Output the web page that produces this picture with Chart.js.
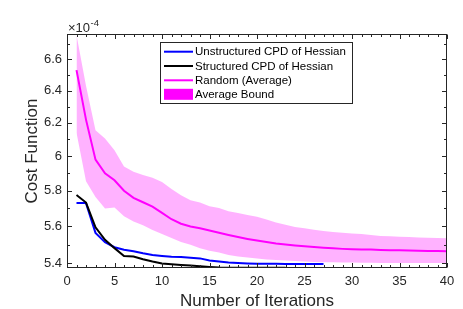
<!DOCTYPE html>
<html>
<head>
<meta charset="utf-8">
<script src="https://cdn.jsdelivr.net/npm/chart.js@4.4.1/dist/chart.umd.min.js"></script>
<style>
  html, body { margin: 0; padding: 0; background: #fff; }
  canvas { display: block; }
</style>
</head>
<body>
<canvas id="chart" width="463" height="309"></canvas>
<script>
// values are in units of 1e-4 (the axis shows the x10^-4 factor)
const randomAvg = [6.53, 6.22, 5.98, 5.90, 5.86, 5.80, 5.76, 5.735, 5.71, 5.675,
  5.64, 5.615, 5.60, 5.59, 5.578, 5.565, 5.553, 5.542, 5.532, 5.523,
  5.515, 5.507, 5.501, 5.496, 5.492, 5.488, 5.484, 5.481, 5.478, 5.476,
  5.475, 5.474, 5.472, 5.471, 5.470, 5.469, 5.468, 5.467, 5.466, 5.465];
const boundUpper = [6.76, 6.43, 6.155, 6.105, 6.035, 5.94, 5.91, 5.89, 5.875, 5.85,
  5.81, 5.775, 5.746, 5.733, 5.713, 5.702, 5.685, 5.674, 5.663, 5.654,
  5.638, 5.622, 5.609, 5.597, 5.590, 5.582, 5.575, 5.570, 5.565, 5.562,
  5.558, 5.553, 5.548, 5.546, 5.544, 5.542, 5.540, 5.538, 5.537, 5.535];
const boundLower = [6.14, 5.855, 5.765, 5.70, 5.705, 5.656, 5.628, 5.606, 5.58, 5.558,
  5.537, 5.515, 5.50, 5.482, 5.468, 5.458, 5.445, 5.437, 5.432, 5.427,
  5.421, 5.419, 5.416, 5.413, 5.411, 5.408, 5.407, 5.406, 5.405, 5.405,
  5.404, 5.404, 5.403, 5.403, 5.403, 5.402, 5.402, 5.402, 5.402, 5.402];
const unstructured = [5.73, 5.73, 5.565, 5.514, 5.487, 5.473, 5.465, 5.454, 5.445, 5.440,
  5.436, 5.434, 5.430, 5.427, 5.416, 5.410, 5.405, 5.402, 5.400, 5.399,
  5.398, 5.398, 5.397, 5.397, 5.397, 5.397, 5.397];
const structured = [5.776, 5.733, 5.595, 5.527, 5.482, 5.440, 5.437, 5.422, 5.410, 5.400,
  5.396, 5.392, 5.389, 5.385, 5.381, 5.378, 5.377, 5.377, 5.377, 5.377,
  5.377, 5.377, 5.377];

const xTicks = [0, 5, 10, 15, 20, 25, 30, 35, 40];
const yTicks = [5.4, 5.6, 5.8, 6.0, 6.2, 6.4, 6.6];
const yMinorTicks = [5.5, 5.7, 5.9, 6.1, 6.3, 6.5, 6.7];
const labels = ['Unstructured CPD of Hessian', 'Structured CPD of Hessian', 'Random (Average)', 'Average Bound'];

const FONT = "'Liberation Sans', Arial, Helvetica, sans-serif";
const AXIS = '#262626';
const points = arr => arr.map((v, i) => ({ x: i + 1, y: v }));

const frame = {
  id: 'frame',
  afterDatasetsDraw(chart) {
    const { ctx, chartArea: a, scales: { x, y } } = chart;
    const L = Math.round(a.left) + 0.5, R = Math.round(a.right) - 0.5;
    const T = Math.round(a.top) + 0.5, B = Math.round(a.bottom) - 0.5;
    ctx.save();
    ctx.strokeStyle = AXIS;
    ctx.lineWidth = 1;
    ctx.beginPath();
    for (let v = 0; v <= 40; v++) {
      const px = Math.round(x.getPixelForValue(v)) + 0.5;
      const len = v % 5 === 0 ? 4.5 : 2.5;
      ctx.moveTo(px, B); ctx.lineTo(px, B - len);
      ctx.moveTo(px, T); ctx.lineTo(px, T + len);
    }
    yTicks.concat(yMinorTicks).forEach(v => {
      const py = Math.round(y.getPixelForValue(v)) + 0.5;
      const len = yTicks.includes(v) ? 4.5 : 2.5;
      ctx.moveTo(L, py); ctx.lineTo(L + len, py);
      ctx.moveTo(R, py); ctx.lineTo(R - len, py);
    });
    ctx.stroke();
    ctx.strokeRect(L, T, R - L, B - T);

    // exponent label
    ctx.fillStyle = AXIS;
    ctx.textBaseline = 'alphabetic';
    ctx.font = '13px ' + FONT;
    ctx.fillText('\u00d710', a.left + 1, a.top - 2);
    const w = ctx.measureText('\u00d710').width;
    ctx.font = '9.5px ' + FONT;
    ctx.fillText('-4', a.left + 1.5 + w, a.top - 8.5);
    ctx.restore();
  },
  afterDraw(chart) {
    const { ctx } = chart;
    const ds = chart.data.datasets;
    ctx.save();
    ctx.fillStyle = '#fff';
    ctx.fillRect(160.5, 42.5, 192, 61);
    ctx.strokeStyle = AXIS;
    ctx.lineWidth = 1;
    ctx.strokeRect(160.5, 42.5, 192, 61);
    const rows = [51.7, 66, 80.3, 94.3];
    ctx.font = '11.5px ' + FONT;
    ctx.textBaseline = 'middle';
    rows.forEach((ry, i) => {
      if (i < 3) {
        ctx.strokeStyle = ds[i].borderColor;
        ctx.lineWidth = 2;
        ctx.beginPath();
        ctx.moveTo(164, ry); ctx.lineTo(193, ry);
        ctx.stroke();
      } else {
        ctx.fillStyle = '#ff00ff';
        ctx.fillRect(164, ry - 5.5, 29, 11);
      }
      ctx.fillStyle = '#000';
      ctx.fillText(labels[i], 195, ry + 0.5);
    });
    ctx.restore();
  }
};

new Chart(document.getElementById('chart'), {
  type: 'line',
  data: {
    datasets: [
      { label: labels[0], data: points(unstructured), borderColor: '#0000ff', borderWidth: 2, order: 3 },
      { label: labels[1], data: points(structured), borderColor: '#000000', borderWidth: 2, order: 2 },
      { label: labels[2], data: points(randomAvg), borderColor: '#ff00ff', borderWidth: 2, order: 1 },
      { label: labels[3], data: points(boundUpper), borderWidth: 0, borderColor: 'rgba(0,0,0,0)',
        backgroundColor: 'rgba(255,0,255,0.3)', fill: '+1', order: 5 },
      { label: 'lower', data: points(boundLower), borderWidth: 0, borderColor: 'rgba(0,0,0,0)', fill: false, order: 5 }
    ]
  },
  options: {
    responsive: false,
    animation: false,
    events: [],
    devicePixelRatio: 1,
    layout: { padding: { left: 0, top: 34, right: 16, bottom: 0 } },
    elements: { point: { radius: 0 }, line: { tension: 0 } },
    plugins: { legend: { display: false }, tooltip: { enabled: false } },
    scales: {
      x: {
        type: 'linear',
        min: 0,
        max: 40,
        afterFit: s => { s.height = 41; },
        afterBuildTicks: s => { s.ticks = xTicks.map(v => ({ value: v })); },
        grid: { display: false, drawTicks: false },
        border: { display: false },
        ticks: { color: AXIS, font: { family: FONT, size: 13 }, padding: 6, maxRotation: 0 },
        title: { display: true, text: 'Number of Iterations', color: AXIS,
          font: { family: FONT, size: 17, lineHeight: 1 }, padding: { top: 0, bottom: -1 } }
      },
      y: {
        type: 'logarithmic',
        min: 5.376,
        max: 6.766,
        afterFit: s => { s.width = 67; },
        afterBuildTicks: s => { s.ticks = yTicks.map(v => ({ value: v })); },
        grid: { display: false, drawTicks: false },
        border: { display: false },
        ticks: { color: AXIS, font: { family: FONT, size: 13 }, padding: 5,
          callback: v => String(Number(v.toFixed(1))) },
        title: { display: true, text: 'Cost Function', color: AXIS,
          font: { family: FONT, size: 17, lineHeight: 1 }, padding: { top: 24, bottom: 0 } }
      }
    }
  },
  plugins: [frame]
});
</script>
</body>
</html>
